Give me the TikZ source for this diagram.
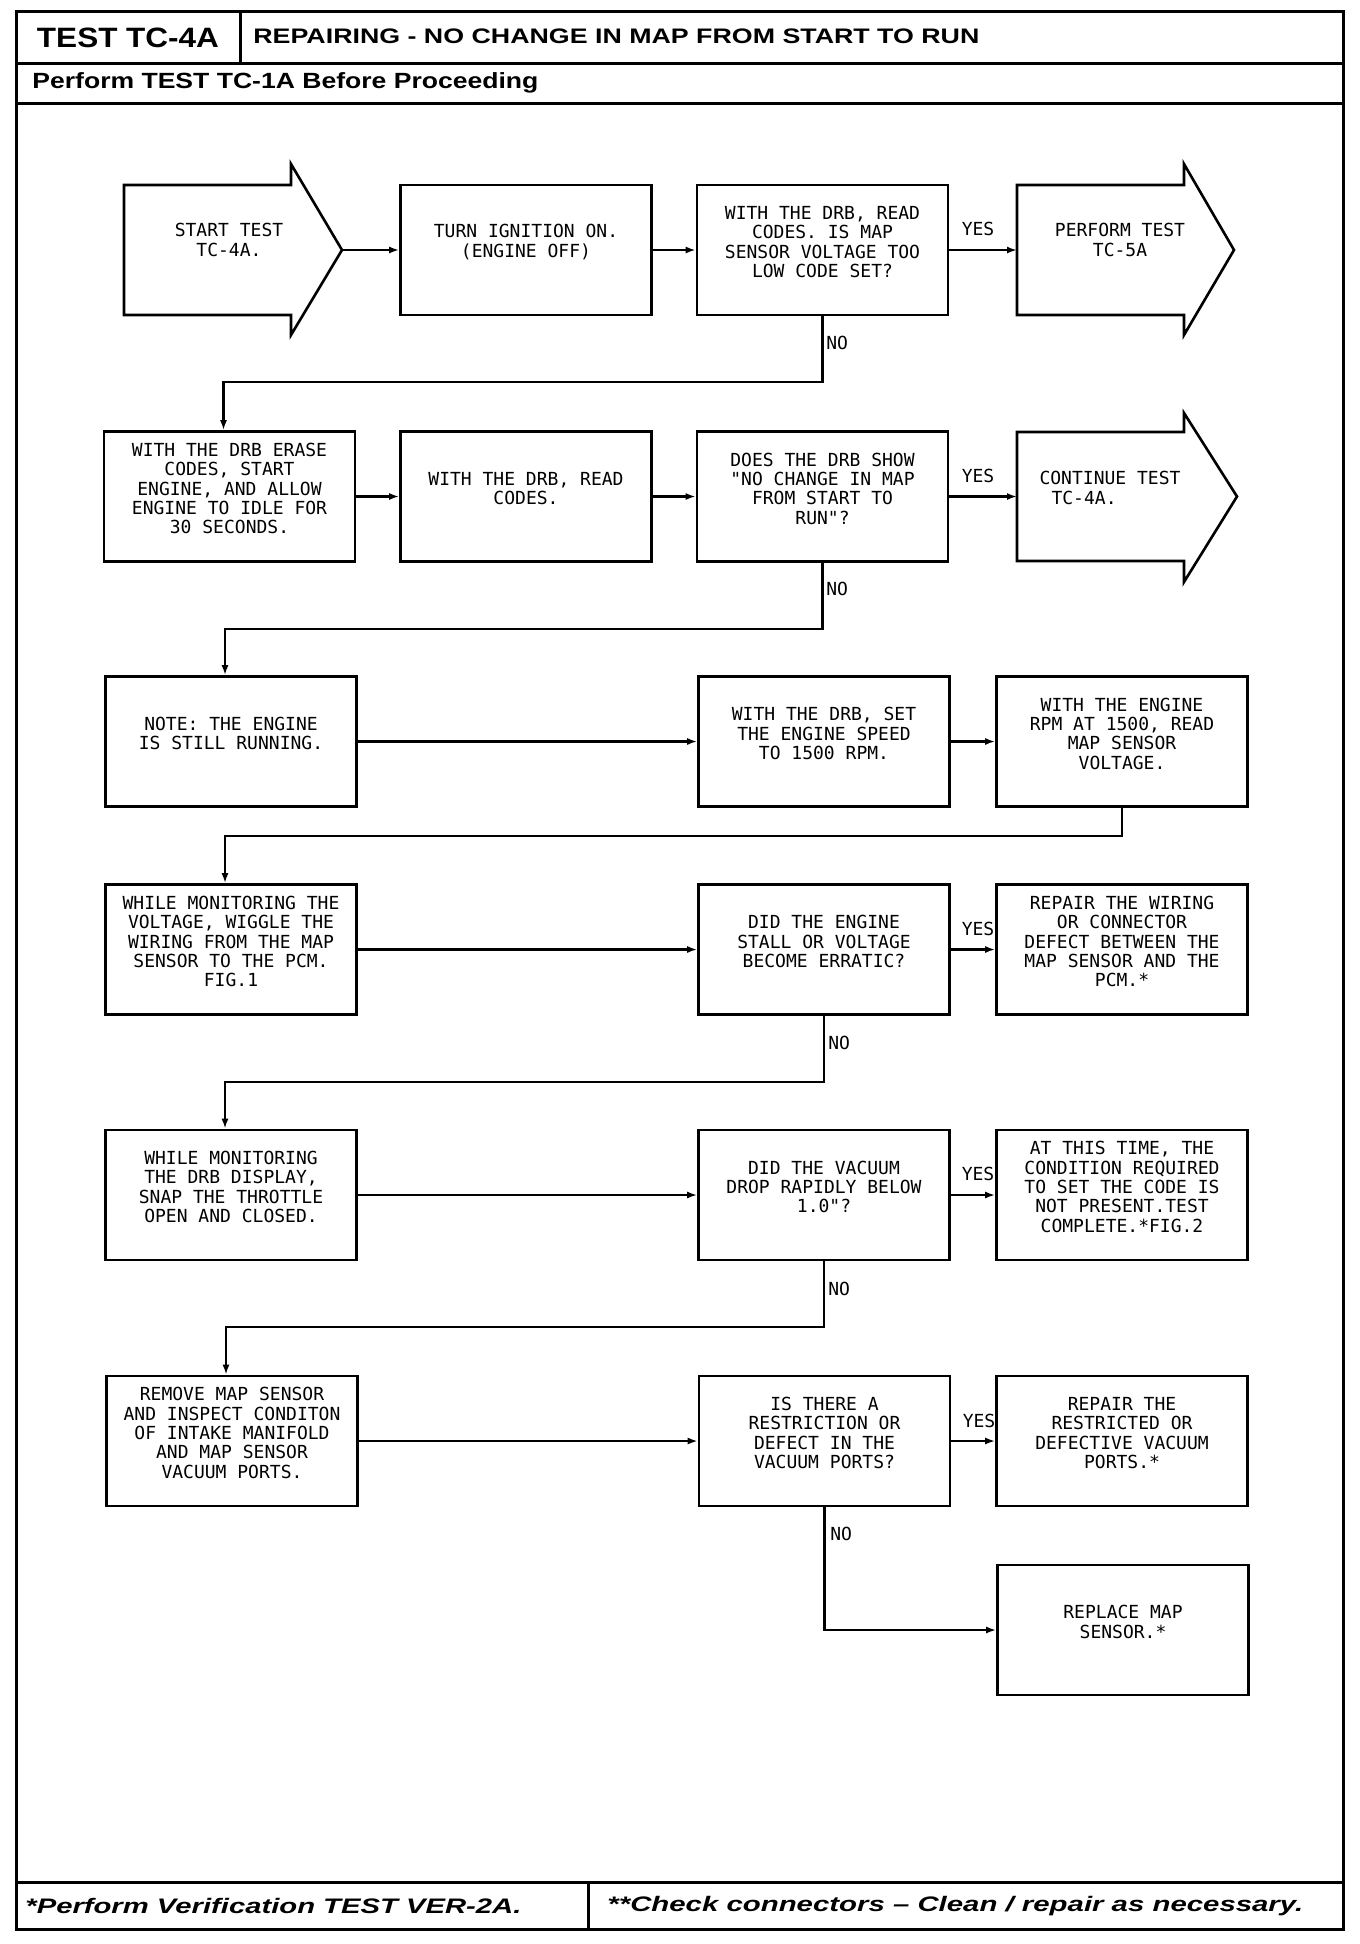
\documentclass[tikz,border=0pt]{standalone}
\usepackage{fontspec}
\usepackage{graphicx}
\setmainfont{Liberation Sans}
\newfontfamily\plotfont{DejaVu Sans Mono}
\usetikzlibrary{arrows.meta,calc}
\newcommand\flowbox[4]{%
  \node[box] (#1) at (#2,#3) {};
  \node[txt] (#1t) at (#2,#3-8) {#4};}
\begin{document}
\begin{tikzpicture}[x=0.5pt,y=-0.5pt,
  box/.style={draw, line width=1.3pt, minimum width=125.5pt, minimum height=65pt, inner sep=0pt},
  txt/.style={align=center, inner sep=0pt, font=\plotfont\fontsize{9}{9.65}\selectfont},
  lbl/.style={inner sep=0pt, font=\plotfont\fontsize{9}{9.65}\selectfont},
  conn/.style={line width=1.1pt, -{Latex[length=5pt,width=3.5pt]}},
  frameline/.style={line width=1.5pt},
  bigarrow/.style={draw, line width=1.3pt, line join=miter},
  hdr/.style={inner sep=0pt, font=\bfseries}
]
\useasboundingbox (0,0) rectangle (1360,1944);
% frame
\draw[frameline] (16,11) rectangle (1343,1929);
\draw[frameline] (16,63) -- (1343,63);
\draw[frameline] (240,11) -- (240,63);
\draw[frameline] (16,103) -- (1343,103);
\draw[frameline] (16,1882) -- (1343,1882);
\draw[frameline] (588,1882) -- (588,1929);
\node[hdr] (h1) at (128,38) {\resizebox{91pt}{\height}{\fontsize{14}{16}\selectfont TEST TC-4A}};
\node[hdr,anchor=west] (h2) at (253,36) {\resizebox{363pt}{\height}{\fontsize{10.5}{12}\selectfont REPAIRING - NO CHANGE IN MAP FROM START TO RUN}};
\node[hdr,anchor=west] (h3) at (32,83) {\resizebox{253pt}{\height}{\fontsize{11}{13}\selectfont Perform TEST TC-1A Before Proceeding}};
\node[hdr,anchor=west] (f1) at (25,1906) {\resizebox{248pt}{\height}{\fontsize{10.5}{12}\selectfont\itshape *Perform Verification TEST VER-2A.}};
\node[hdr,anchor=west] (f2) at (607,1906) {\resizebox{348pt}{\height}{\fontsize{10.5}{12}\selectfont\itshape **Check connectors \textendash{} Clean / repair as necessary.}};

% Row 1
\draw[bigarrow] (124,185) -- (291,185) -- (291,164) -- (342,250) -- (291,335) -- (291,315) -- (124,315) -- cycle;
\coordinate (s1tip) at (342,250);
\node[txt] (s1) at (229,240) {START TEST\\TC-4A.};
\flowbox{b12}{526}{250}{TURN IGNITION ON.\\(ENGINE OFF)}
\flowbox{b13}{822.5}{250}{WITH THE DRB, READ\\CODES. IS MAP\\SENSOR VOLTAGE TOO\\LOW CODE SET?}
\draw[bigarrow] (1017,185) -- (1184,185) -- (1184,164) -- (1234,250) -- (1184,335) -- (1184,315) -- (1017,315) -- cycle;
\coordinate (p1tail) at (1017,250);
\node[txt] (p1) at (1120,240) {PERFORM TEST\\TC-5A};
\node[lbl] (y1) at (978,229) {YES};
\node[lbl,anchor=west] (n1) at (826,343) {NO};

% Row 2
\flowbox{b21}{229.5}{496.5}{WITH THE DRB ERASE\\CODES, START\\ENGINE, AND ALLOW\\ENGINE TO IDLE FOR\\30 SECONDS.}
\flowbox{b22}{526}{496.5}{WITH THE DRB, READ\\CODES.}
\flowbox{b23}{822.5}{496.5}{DOES THE DRB SHOW\\"NO CHANGE IN MAP\\FROM START TO\\RUN"?}
\draw[bigarrow] (1017,432) -- (1184,432) -- (1184,413) -- (1237,496.5) -- (1184,582) -- (1184,561) -- (1017,561) -- cycle;
\coordinate (c2tail) at (1017,496.5);
\node[txt,align=left] (c2) at (1110,488) {CONTINUE TEST\\\hspace*{6pt}TC-4A.};
\node[lbl] (y2) at (978,476) {YES};
\node[lbl,anchor=west] (n2) at (826,589) {NO};

% Row 3
\flowbox{b31}{231}{741.5}{NOTE: THE ENGINE\\IS STILL RUNNING.}
\flowbox{b32}{824}{741.5}{WITH THE DRB, SET\\THE ENGINE SPEED\\TO 1500 RPM.}
\flowbox{b33}{1122}{741.5}{WITH THE ENGINE\\RPM AT 1500, READ\\MAP SENSOR\\VOLTAGE.}

% Row 4
\flowbox{b41}{231}{949.5}{WHILE MONITORING THE\\VOLTAGE, WIGGLE THE\\WIRING FROM THE MAP\\SENSOR TO THE PCM.\\FIG.1}
\flowbox{b42}{824}{949.5}{DID THE ENGINE\\STALL OR VOLTAGE\\BECOME ERRATIC?}
\flowbox{b43}{1122}{949.5}{REPAIR THE WIRING\\OR CONNECTOR\\DEFECT BETWEEN THE\\MAP SENSOR AND THE\\PCM.*}
\node[lbl] (y4) at (978,929) {YES};
\node[lbl,anchor=west] (n4) at (828,1043) {NO};

% Row 5
\flowbox{b51}{231}{1195}{WHILE MONITORING\\THE DRB DISPLAY,\\SNAP THE THROTTLE\\OPEN AND CLOSED.}
\flowbox{b52}{824}{1195}{DID THE VACUUM\\DROP RAPIDLY BELOW\\1.0"?}
\flowbox{b53}{1122}{1195}{AT THIS TIME, THE\\CONDITION REQUIRED\\TO SET THE CODE IS\\NOT PRESENT.TEST\\COMPLETE.*FIG.2}
\node[lbl] (y5) at (978,1174) {YES};
\node[lbl,anchor=west] (n5) at (828,1289) {NO};

% Row 6
\flowbox{b61}{232}{1441}{REMOVE MAP SENSOR\\AND INSPECT CONDITON\\OF INTAKE MANIFOLD\\AND MAP SENSOR\\VACUUM PORTS.}
\flowbox{b62}{824.5}{1441}{IS THERE A\\RESTRICTION OR\\DEFECT IN THE\\VACUUM PORTS?}
\flowbox{b63}{1122}{1441}{REPAIR THE\\RESTRICTED OR\\DEFECTIVE VACUUM\\PORTS.*}
\node[lbl] (y6) at (979,1421) {YES};
\node[lbl,anchor=west] (n6) at (830,1534) {NO};

% Row 7
\flowbox{b7}{1123}{1630}{REPLACE MAP\\SENSOR.*}

% connectors
\draw[conn] (s1tip) -- (b12);
\draw[conn] (b12) -- (b13);
\draw[conn] (b13) -- (p1tail);
\draw[conn] (b13.south) -- ++(0,66) -| ([xshift=-3pt]b21.north);
\draw[conn] (b21) -- (b22);
\draw[conn] (b22) -- (b23);
\draw[conn] (b23) -- (c2tail);
\draw[conn] (b23.south) -- ++(0,66) -| ([xshift=-3pt]b31.north);
\draw[conn] (b31) -- (b32);
\draw[conn] (b32) -- (b33);
\draw[conn] (b33.south) -- ++(0,28) -| ([xshift=-3pt]b41.north);
\draw[conn] (b41) -- (b42);
\draw[conn] (b42) -- (b43);
\draw[conn] (b42.south) -- ++(0,66) -| ([xshift=-3pt]b51.north);
\draw[conn] (b51) -- (b52);
\draw[conn] (b52) -- (b53);
\draw[conn] (b52.south) -- ++(0,66) -| ([xshift=-3pt]b61.north);
\draw[conn] (b61) -- (b62);
\draw[conn] (b62) -- (b63);
\draw[conn] (b62.south) |- (b7.west);
\end{tikzpicture}
\end{document}
